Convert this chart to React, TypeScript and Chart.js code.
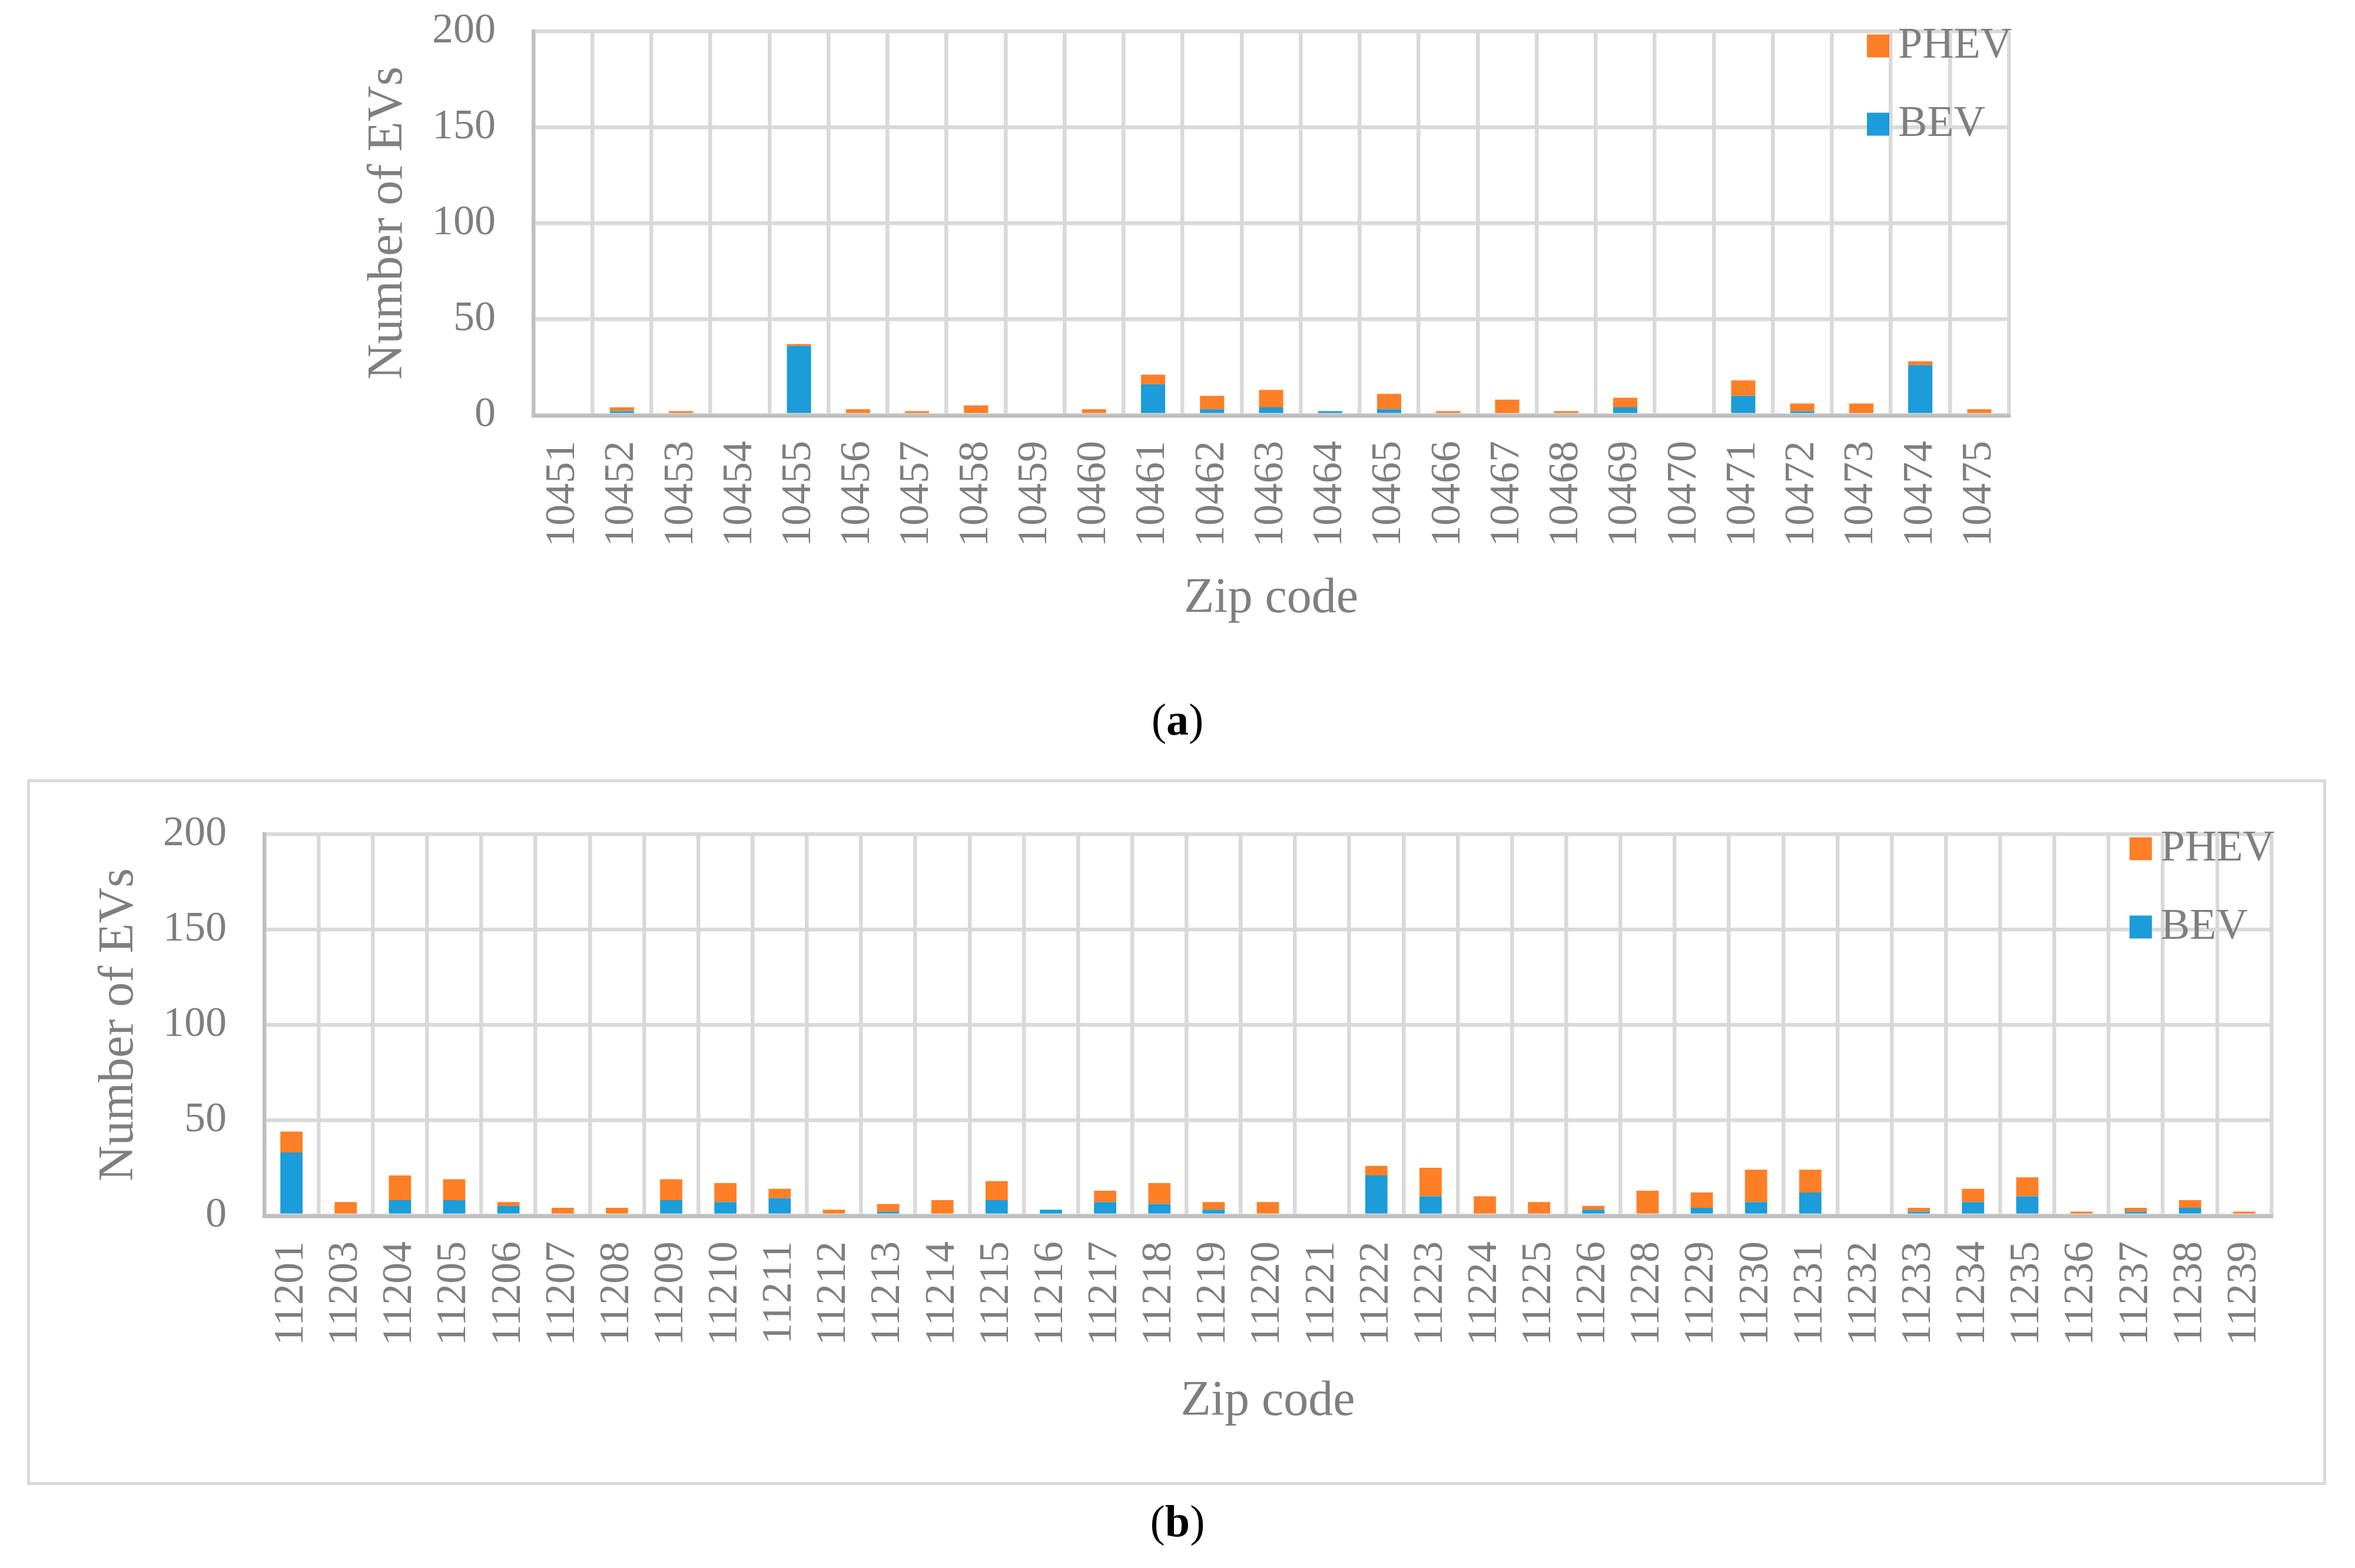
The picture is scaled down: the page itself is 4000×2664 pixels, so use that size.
import React, { useEffect, useRef } from 'react';
import { Chart, registerables } from 'chart.js';

Chart.register(...registerables);

// ---------- data ----------
const seriesNames = ['BEV', 'PHEV'];
const yAxisTicks = [0, 50, 100, 150, 200];

const zipsA = ['10451', '10452', '10453', '10454', '10455', '10456', '10457', '10458', '10459', '10460',
  '10461', '10462', '10463', '10464', '10465', '10466', '10467', '10468', '10469', '10470',
  '10471', '10472', '10473', '10474', '10475'];
const bevA = [0, 2, 0, 0, 36, 0, 0, 0, 0, 0, 16, 3, 4, 2, 3, 0, 0, 0, 4, 0, 10, 2, 0, 26, 0];
const phevA = [0, 2, 2, 0, 1, 3, 2, 5, 0, 3, 5, 7, 9, 0, 8, 2, 8, 2, 5, 1, 8, 4, 6, 2, 3];

const zipsB = ['11201', '11203', '11204', '11205', '11206', '11207', '11208', '11209', '11210', '11211',
  '11212', '11213', '11214', '11215', '11216', '11217', '11218', '11219', '11220', '11221',
  '11222', '11223', '11224', '11225', '11226', '11228', '11229', '11230', '11231', '11232',
  '11233', '11234', '11235', '11236', '11237', '11238', '11239'];
const bevB = [33, 0, 8, 8, 5, 0, 0, 8, 7, 9, 0, 2, 0, 8, 3, 7, 6, 3, 0, 0, 21, 10, 0, 0, 3, 0, 4, 7, 12, 0, 2, 7, 10, 0, 2, 4, 0];
const phevB = [11, 7, 13, 11, 2, 4, 4, 11, 10, 5, 3, 4, 8, 10, 0, 6, 11, 4, 7, 1, 5, 15, 10, 7, 2, 13, 8, 17, 12, 0, 2, 7, 10, 2, 2, 4, 2];

const xTitle = 'Zip code';
const yTitle = 'Number of EVs';

// ---------- styles ----------
const GRAY_TEXT = '#7f7f7f';
const GRID = '#d9d9d9';
const AXIS = '#bfbfbf';
const BLUE = '#1c9cd8';
const ORANGE = '#ff7f27';
const SERIF = '"Liberation Serif", "Times New Roman", Times, serif';
const LINE_W = 6.5;

const excelPlugin = {
  id: 'excelDecor',
  afterDatasetsDraw(chart: any) {
    const { ctx, chartArea, scales } = chart;
    const y0 = scales.y.getPixelForValue(0) + 1.5;
    ctx.save();
    ctx.strokeStyle = AXIS;
    ctx.lineWidth = LINE_W;
    ctx.beginPath();
    ctx.moveTo(chartArea.left - LINE_W / 2, y0);
    ctx.lineTo(chartArea.right + LINE_W / 2, y0);
    ctx.stroke();
    ctx.restore();
  },
  afterDraw(chart: any) {
    const { ctx, chartArea } = chart;
    const ds = chart.data.datasets.slice().reverse();
    ctx.save();
    ctx.font = `74px ${SERIF}`;
    ctx.textBaseline = 'middle';
    ctx.textAlign = 'left';
    ds.forEach((d: any, i: number) => {
      const cy = chartArea.top + 25 + i * 133;
      const sx = chartArea.right - 241;
      ctx.fillStyle = d.backgroundColor;
      ctx.fillRect(sx, cy - 19.5, 38, 39);
      ctx.fillStyle = GRAY_TEXT;
      ctx.fillText(d.label, sx + 53, cy + 1);
    });
    ctx.restore();
  },
};

type Geo = {
  top: number; height: number;
  pl: number; pr: number; pt: number; pb: number;
  yW: number; xH: number;
};

function StackedChart({ labels, bev, phev, geo }: { labels: string[]; bev: number[]; phev: number[]; geo: Geo }) {
  const ref = useRef<HTMLCanvasElement | null>(null);
  useEffect(() => {
    if (!ref.current) return;
    const chart = new Chart(ref.current, {
      type: 'bar',
      data: {
        labels,
        datasets: [
          { label: seriesNames[0], data: bev, backgroundColor: BLUE, borderWidth: 0, barPercentage: 0.41, categoryPercentage: 1 },
          { label: seriesNames[1], data: phev, backgroundColor: ORANGE, borderWidth: 0, barPercentage: 0.41, categoryPercentage: 1 },
        ],
      },
      options: {
        responsive: false,
        animation: false,
        devicePixelRatio: 1,
        layout: { padding: { left: geo.pl, right: geo.pr, top: geo.pt, bottom: geo.pb } },
        plugins: { legend: { display: false }, tooltip: { enabled: false } },
        scales: {
          x: {
            stacked: true,
            grid: {
              offset: true,
              color: (c: any) => (c.index === 0 ? 'rgba(0,0,0,0)' : GRID),
              lineWidth: LINE_W,
              drawTicks: false,
            },
            border: { display: false },
            ticks: {
              color: GRAY_TEXT,
              font: { family: SERIF, size: 72 },
              maxRotation: 90,
              minRotation: 90,
              padding: 44,
              autoSkip: false,
            },
            title: { display: true, text: xTitle, color: GRAY_TEXT, font: { family: SERIF, size: 84 }, padding: 0 },
            afterFit: (s: any) => {
              s.height = geo.xH;
              s.paddingLeft = 0; s.paddingRight = 0; s.paddingTop = 0; s.paddingBottom = 0;
            },
          },
          y: {
            stacked: true,
            min: yAxisTicks[0],
            max: yAxisTicks[yAxisTicks.length - 1],
            afterBuildTicks: (s: any) => { s.ticks = yAxisTicks.map((v) => ({ value: v })); },
            ticks: { color: GRAY_TEXT, font: { family: SERIF, size: 72 }, padding: 64 },
            grid: { color: GRID, lineWidth: LINE_W, drawTicks: false },
            border: { color: AXIS, width: LINE_W },
            title: { display: true, text: yTitle, color: GRAY_TEXT, font: { family: SERIF, size: 84 }, padding: 0 },
            afterFit: (s: any) => {
              s.width = geo.yW;
              s.paddingLeft = 0; s.paddingRight = 0; s.paddingTop = 0; s.paddingBottom = 0;
            },
          },
        },
      } as any,
      plugins: [excelPlugin],
    });
    return () => chart.destroy();
  }, []);
  return (
    <canvas
      ref={ref}
      width={4000}
      height={geo.height}
      style={{ position: 'absolute', left: 0, top: geo.top, width: 4000, height: geo.height }}
    />
  );
}

const geoA: Geo = { top: 0, height: 1100, pl: 609.6, pr: 588, pt: 53, pb: 31.6, yW: 296.4, xH: 363.4 };
const geoB: Geo = { top: 1340, height: 1150, pl: 152.6, pr: 142, pt: 77, pb: 57.6, yW: 296.4, xH: 367.4 };

const captionStyle: React.CSSProperties = {
  position: 'absolute', left: 0, width: 4000, textAlign: 'center',
  fontFamily: SERIF, fontSize: 76, lineHeight: '76px', color: '#000',
};

export default function App() {
  return (
    <div style={{ position: 'absolute', left: 0, top: 0, width: 4000, height: 2664, background: '#fff', overflow: 'hidden' }}>
      <StackedChart labels={zipsA} bev={bevA} phev={phevA} geo={geoA} />
      <div style={{ ...captionStyle, top: 1184 }}>(<b>a</b>)</div>
      <div style={{
        position: 'absolute', left: 46, top: 1324, width: 3905, height: 1199,
        border: `5px solid ${GRID}`, boxSizing: 'border-box',
      }} />
      <StackedChart labels={zipsB} bev={bevB} phev={phevB} geo={geoB} />
      <div style={{ ...captionStyle, top: 2546 }}>(<b>b</b>)</div>
    </div>
  );
}
